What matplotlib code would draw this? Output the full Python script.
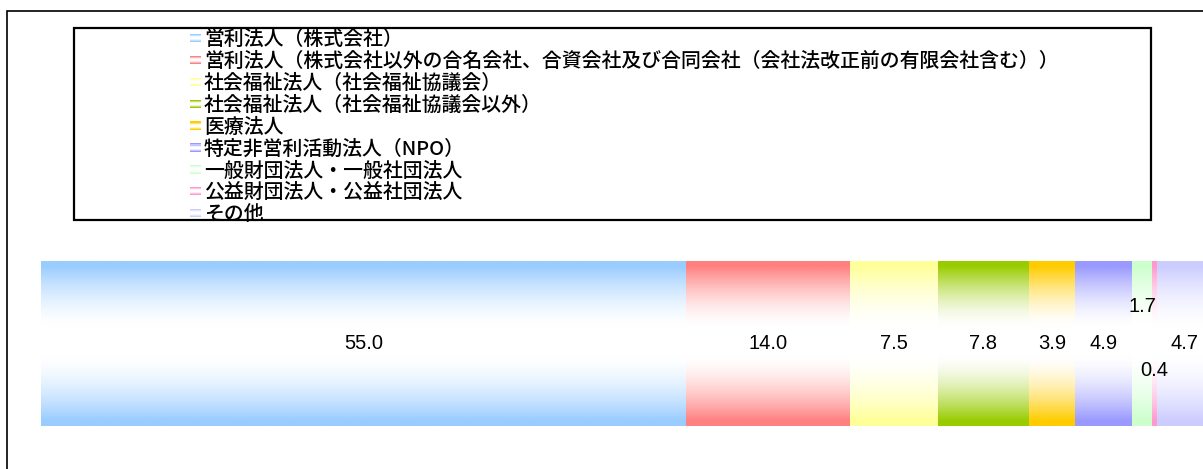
import numpy as np
import matplotlib
matplotlib.use("Agg")
import matplotlib.pyplot as plt
from matplotlib.patches import Rectangle
from matplotlib.legend_handler import HandlerBase
from matplotlib.colors import to_rgb

plt.rcParams['font.family'] = ['Noto Sans CJK JP', 'DejaVu Sans']

# 法人種別ごとの構成比（%）
categories = [
    "営利法人（株式会社）",
    "営利法人（株式会社以外の合名会社、合資会社及び合同会社（会社法改正前の有限会社含む））",
    "社会福祉法人（社会福祉協議会）",
    "社会福祉法人（社会福祉協議会以外）",
    "医療法人",
    "特定非営利活動法人（NPO）",
    "一般財団法人・一般社団法人",
    "公益財団法人・公益社団法人",
    "その他",
]
shares = [55.0, 14.0, 7.5, 7.8, 3.9, 4.9, 1.7, 0.4, 4.7]
colors = ["#99CCFF", "#FF8080", "#FFFF99", "#99CC00", "#FFCC00",
          "#9999FF", "#CCFFCC", "#FF99CC", "#CCCCFF"]
# vertical nudge (points) for labels of the narrow segments
label_dy = [0, 0, 0, 0, 0, 0, 27, -19.5, 0]

W, H, DPI = 1203, 469, 100
fig = plt.figure(figsize=(W / DPI, H / DPI), dpi=DPI)

# outer chart-area border (continues past the right/bottom edges)
fig.add_artist(Rectangle((7 / W, -0.2), 1.5, (1 - 11 / H) + 0.2,
                         transform=fig.transFigure, fill=False,
                         edgecolor="black", lw=1.2))
# legend border
fig.add_artist(Rectangle((74 / W, 1 - 220 / H), (1151 - 74) / W, (220 - 28) / H,
                         transform=fig.transFigure, fill=False,
                         edgecolor="black", lw=1.6))

ax = fig.add_axes([41 / W, 1 - 426 / H, (1213 - 41) / W, 165 / H])
ax.set_axis_off()


def white_weight(t):
    """Blend factor towards white across the bar height (0 = top, 1 = bottom)."""
    top = np.clip((t - 0.03) / (0.40 - 0.03), 0, 1)
    bot = np.clip((0.97 - t) / (0.97 - 0.57), 0, 1)
    s = np.minimum(top, bot)
    return 1 - (1 - s) ** 1.6


def gradient_rgb(color, n=256):
    c = np.array(to_rgb(color))
    w = white_weight(np.linspace(0, 1, n))[:, None]
    return c[None, :] * (1 - w) + w


lefts = np.concatenate([[0], np.cumsum(shares)[:-1]])
bars = ax.barh(0, shares, left=lefts, height=1.0, color=colors,
               edgecolor="none", label=None)

for rect, col in zip(bars.patches, colors):
    x0, x1 = rect.get_x(), rect.get_x() + rect.get_width()
    img = gradient_rgb(col)[:, None, :]
    im = ax.imshow(img, extent=[x0, x1, -0.5, 0.5], aspect="auto",
                   interpolation="bilinear", origin="upper", zorder=2)
    im.set_clip_path(rect)

for rect, v, dy in zip(bars.patches, shares, label_dy):
    cx = rect.get_x() + rect.get_width() / 2
    ax.annotate(f"{v:.1f}", (cx, 0), xytext=(0, dy), textcoords="offset points",
                ha="center", va="center", fontsize=14.5,
                family=["Liberation Sans", "DejaVu Sans"], color="#000000",
                zorder=5)

ax.set_xlim(0, 100)
ax.set_ylim(-0.5, 0.5)


class GradientHandler(HandlerBase):
    def create_artists(self, legend, orig_handle, xdescent, ydescent,
                       width, height, fontsize, trans):
        col = orig_handle.get_facecolor()[:3]
        n = 8
        mh = 6.0  # marker height in points
        yc = height / 2 - ydescent
        rgb = gradient_rgb(col, n)
        arts = []
        for i in range(n):
            y = yc + mh / 2 - (i + 1) * mh / n
            r = Rectangle((-xdescent, y), width, mh / n, facecolor=rgb[i],
                          edgecolor="none", transform=trans)
            arts.append(r)
        return arts


leg = fig.legend(bars.patches, categories, loc="upper left",
                 bbox_to_anchor=(190 / W, 1 - 30 / H), borderaxespad=0,
                 borderpad=0, frameon=False,
                 prop={"size": 14.3, "weight": "medium"},
                 handlelength=0.55, handletextpad=0.15, labelspacing=0.135,
                 handler_map={Rectangle: GradientHandler()})
for t in leg.get_texts():
    t.set_color("#000000")

fig.savefig("out.png", dpi=DPI)
